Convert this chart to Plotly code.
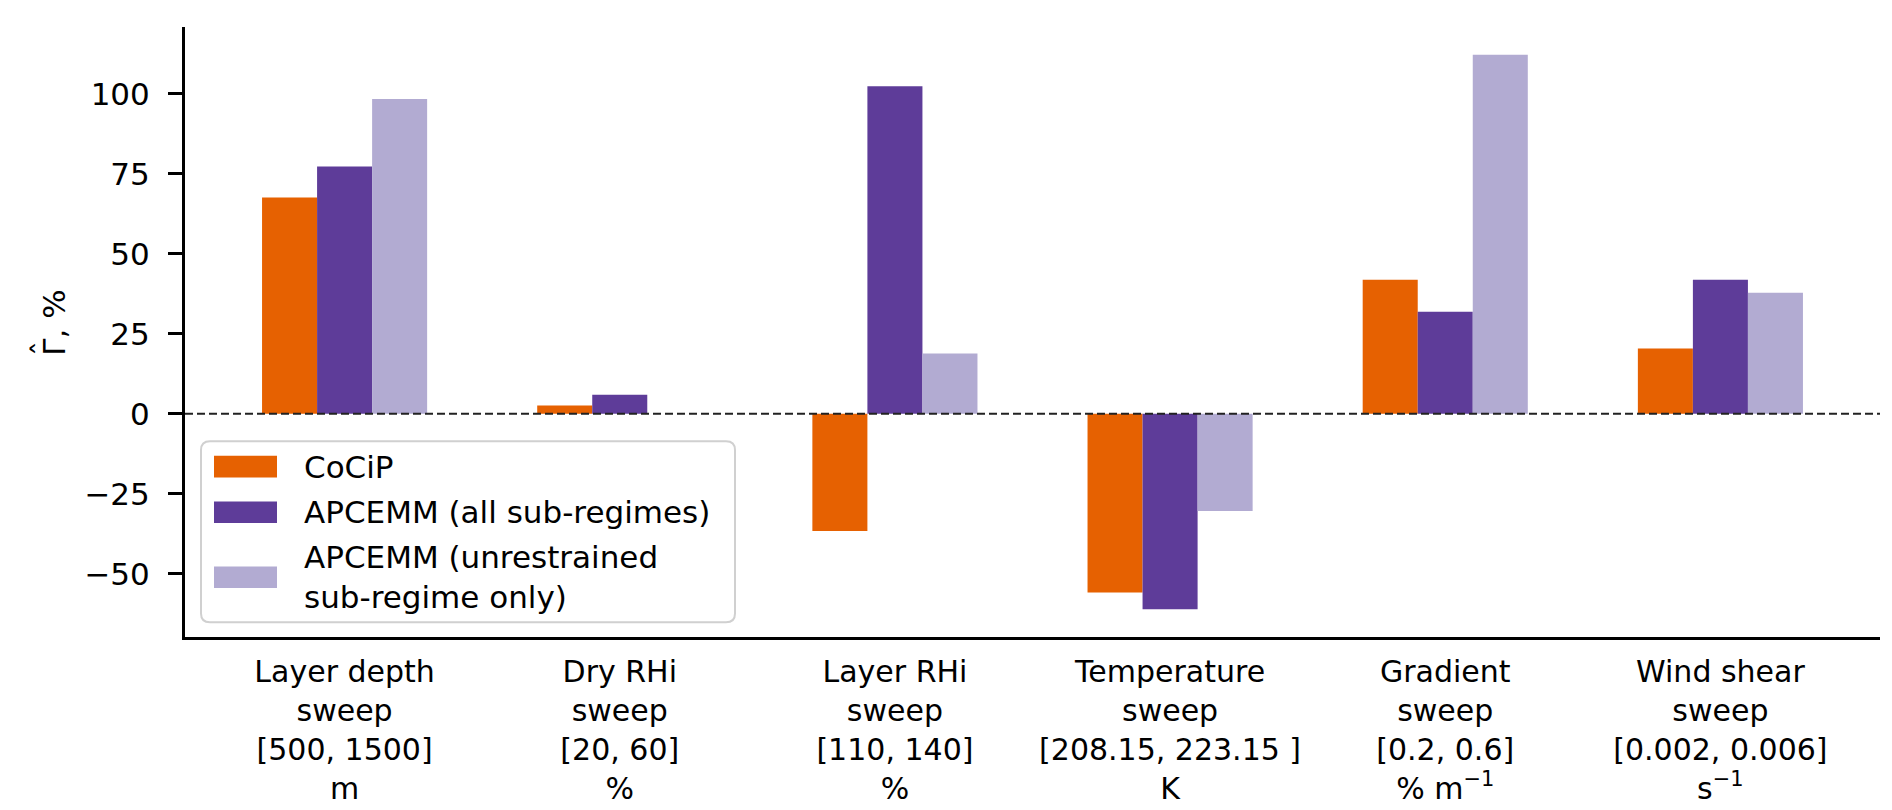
import plotly.graph_objects as go

# ---------------- data ----------------
categories = [
    "Layer depth<br>sweep<br>[500, 1500]<br>m",
    "Dry RHi<br>sweep<br>[20, 60]<br>%",
    "Layer RHi<br>sweep<br>[110, 140]<br>%",
    "Temperature<br>sweep<br>[208.15, 223.15 ]<br>K",
    "Gradient<br>sweep<br>[0.2, 0.6]<br>% m<sup>−1</sup>",
    "Wind shear<br>sweep<br>[0.002, 0.006]<br>s<sup>−1</sup>",
]
cocip = [67.6, 2.6, -36.7, -55.9, 41.9, 20.4]
apcemm_all = [77.3, 5.9, 102.4, -61.1, 31.9, 41.9]
apcemm_unrestrained = [98.4, 0.0, 18.8, -30.4, 112.2, 37.8]

series_names = ["CoCiP", "APCEMM (all sub-regimes)", "APCEMM (unrestrained<br>sub-regime only)"]
series_values = [cocip, apcemm_all, apcemm_unrestrained]
colors = ["#e66101", "#5e3c99", "#b2abd2"]

ytick_vals = [-50, -25, 0, 25, 50, 75, 100]
ytick_text = ["−50", "−25", "0", "25", "50", "75", "100"]
y_title = "Γ, %"
y_title_hat = "ˆ"

# ---------------- layout constants ----------------
W, H = 1892, 810
L, R, T, B = 177, 1872, 19, 642   # plot area in pixels
FONT = "DejaVu Sans"
FS = 31


def px_x(p):
    return (p - L) / (R - L)


def px_y(p):
    return (B - p) / (B - T)


xpos = list(range(len(categories)))

fig = go.Figure()
for name, vals, col in zip(series_names, series_values, colors):
    fig.add_trace(go.Bar(
        x=xpos, y=vals, name=name,
        marker=dict(color=col, line=dict(width=0)),
        showlegend=False,
    ))

shapes = []
# zero dashed line
shapes.append(dict(type="line", xref="paper", yref="y", x0=0, x1=1, y0=0, y1=0,
                   line=dict(color="#222222", width=2, dash="8px,4px"), layer="above"))

# custom matplotlib-like legend
lx0, lx1, ly0, ly1 = 193, 727, 442, 627
r = 9
rx, ry = r / (R - L), r / (B - T)
X0, X1, Y0, Y1 = px_x(lx0), px_x(lx1), px_y(ly1), px_y(ly0)
path = (f"M{X0+rx},{Y0} L{X1-rx},{Y0} Q{X1},{Y0} {X1},{Y0+ry} "
        f"L{X1},{Y1-ry} Q{X1},{Y1} {X1-rx},{Y1} "
        f"L{X0+rx},{Y1} Q{X0},{Y1} {X0},{Y1-ry} "
        f"L{X0},{Y0+ry} Q{X0},{Y0} {X0+rx},{Y0} Z")
shapes.append(dict(type="path", xref="paper", yref="paper", path=path,
                   fillcolor="rgba(255,255,255,0.85)",
                   line=dict(color="#d0d0d0", width=2), layer="above"))

annotations = []
entry_centers = [468, 514.5, 581]
for name, col, cy in zip(series_names, colors, entry_centers):
    shapes.append(dict(type="rect", xref="paper", yref="paper",
                       x0=px_x(206), x1=px_x(269), y0=px_y(cy + 11), y1=px_y(cy - 11),
                       fillcolor=col, line=dict(width=0), layer="above"))
    annotations.append(dict(xref="paper", yref="paper", x=px_x(294), y=px_y(cy),
                            text=name, showarrow=False, xanchor="left", yanchor="middle",
                            align="left", font=dict(family=FONT, size=FS, color="black")))

# y-axis title (Gamma with hat), drawn as rotated text
annotations.append(dict(xref="paper", yref="paper", x=px_x(46), y=px_y(321),
                        text=y_title, textangle=-90, showarrow=False,
                        xanchor="center", yanchor="middle",
                        font=dict(family=FONT, size=FS, color="black")))
annotations.append(dict(xref="paper", yref="paper", x=px_x(35), y=px_y(347),
                        text=y_title_hat, textangle=-90, showarrow=False,
                        xanchor="center", yanchor="middle",
                        font=dict(family=FONT, size=FS, color="black")))

fig.update_layout(
    width=W, height=H, autosize=False,
    margin=dict(l=L, r=W - R, t=T, b=H - B, pad=0),
    paper_bgcolor="white", plot_bgcolor="white",
    barmode="group", bargap=0.4, bargroupgap=0,
    font=dict(family=FONT, size=FS, color="black"),
    shapes=shapes, annotations=annotations,
    showlegend=False,
)
fig.update_xaxes(
    range=[-0.58, 5.58], tickvals=xpos, ticktext=categories,
    showline=True, linecolor="black", linewidth=3, mirror=False,
    ticks="", showgrid=False, zeroline=False,
    tickfont=dict(family=FONT, size=30, color="black"),
    ticklabelstandoff=6,
)
fig.update_yaxes(
    range=[-69.8, 120.9], tickvals=ytick_vals, ticktext=ytick_text,
    showline=True, linecolor="black", linewidth=3, mirror=False,
    ticks="outside", ticklen=14, tickwidth=2.5, tickcolor="black",
    showgrid=False, zeroline=False,
    tickfont=dict(family=FONT, size=FS, color="black"),
    ticklabelstandoff=12,
)

fig.write_html("out.html")
